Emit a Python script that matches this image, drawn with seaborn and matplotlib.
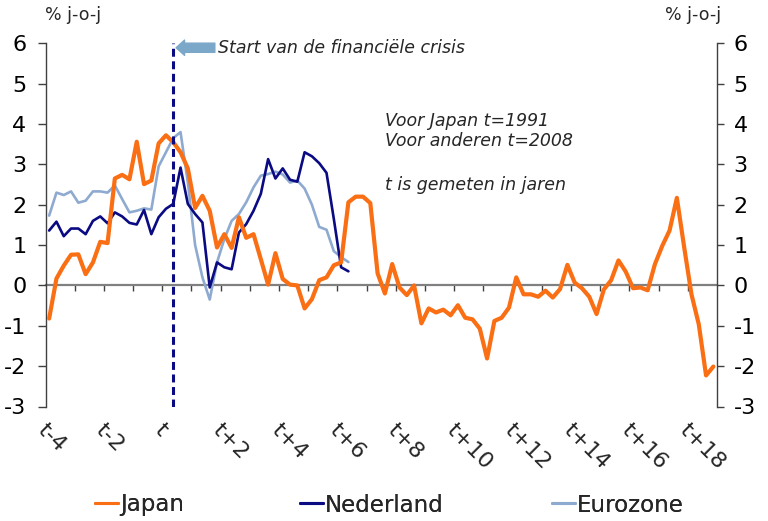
import numpy as np
import pandas as pd
import matplotlib
matplotlib.use("Agg")
import matplotlib.pyplot as plt
from matplotlib.lines import Line2D
import seaborn as sns

# ---------------- data (quarterly, % j-o-j) ----------------
japan = [-0.82, 0.17, 0.49, 0.76, 0.77, 0.28, 0.57, 1.08, 1.05, 2.65,
         2.74, 2.63, 3.56, 2.51, 2.60, 3.52, 3.72, 3.55, 3.30, 2.90,
         1.92, 2.22, 1.85, 0.94, 1.27, 0.93, 1.69, 1.18, 1.27, 0.65,
         0.02, 0.80, 0.16, 0.02, 0.00, -0.57, -0.34, 0.13, 0.20, 0.50,
         0.57, 2.06, 2.20, 2.20, 2.04, 0.30, -0.20, 0.53, -0.05, -0.24,
         0.00, -0.94, -0.57, -0.67, -0.60, -0.74, -0.49, -0.80, -0.84, -1.07,
         -1.81, -0.88, -0.80, -0.55, 0.20, -0.22, -0.22, -0.28, -0.13, -0.30,
         -0.09, 0.51, 0.07, -0.07, -0.28, -0.71, -0.10, 0.13, 0.62, 0.34,
         -0.07, -0.05, -0.12, 0.53, 0.98, 1.36, 2.17, 0.95, -0.22, -0.96,
         -2.23, -2.01]
nederland = [1.36, 1.58, 1.22, 1.41, 1.41, 1.27, 1.60, 1.71, 1.54, 1.81,
             1.71, 1.55, 1.51, 1.87, 1.27, 1.69, 1.90, 2.02, 2.92, 2.02,
             1.77, 1.56, -0.05, 0.57, 0.45, 0.40, 1.31, 1.52, 1.85, 2.27,
             3.13, 2.65, 2.90, 2.62, 2.57, 3.30, 3.20, 3.03, 2.79, 1.65,
             0.45, 0.35]
eurozone = [1.73, 2.30, 2.24, 2.33, 2.05, 2.10, 2.33, 2.33, 2.30, 2.48,
            2.14, 1.81, 1.85, 1.91, 1.88, 2.95, 3.30, 3.65, 3.80, 2.55,
            1.00, 0.20, -0.35, 0.57, 1.15, 1.60, 1.77, 2.06, 2.43, 2.72,
            2.76, 2.82, 2.75, 2.55, 2.60, 2.40, 2.00, 1.45, 1.38, 0.85,
            0.70, 0.58]
series_names = ["Japan", "Nederland", "Eurozone"]
tick_labels = ["t-4", "t-2", "t", "t+2", "t+4", "t+6", "t+8", "t+10",
               "t+12", "t+14", "t+16", "t+18"]
crisis_quarter = 17  # index of quarter t

colors = {"Japan": "#FA6E14", "Nederland": "#0A0A82", "Eurozone": "#8FAAD0"}
widths = {"Japan": 3.0, "Nederland": 1.9, "Eurozone": 1.9}
zorders = {"Japan": 4, "Nederland": 3, "Eurozone": 2}

frames = []
for name, vals in zip(series_names, [japan, nederland, eurozone]):
    frames.append(pd.DataFrame({"kwartaal": np.arange(len(vals)),
                                "waarde": vals, "reeks": name}))
df = pd.concat(frames, ignore_index=True)

sns.set_theme(style="white")
plt.rcParams['font.family'] = ['DejaVu Sans']
plt.rcParams['axes.unicode_minus'] = False

W, H = 768, 521
fig = plt.figure(figsize=(W / 100, H / 100), dpi=100)
ax = fig.add_axes([45.5 / W, 1 - 406.5 / H, (717 - 45.5) / W, (406.5 - 43.3) / H])

handles = []
for name in series_names:
    sub = df[df["reeks"] == name]
    sns.lineplot(data=sub, x="kwartaal", y="waarde", color=colors[name],
                 linewidth=widths[name], ax=ax, legend=False,
                 zorder=zorders[name])
    handles.append(Line2D([], [], color=colors[name], linewidth=2.2))

n = len(japan)
ax.set_xlim(-0.5, n - 0.5)
ax.set_ylim(-3, 6)
ax.set_xlabel("")
ax.set_ylabel("")

# spines
for s in ["top", "bottom"]:
    ax.spines[s].set_visible(False)
ax.spines["left"].set_color("#404040")
ax.spines["left"].set_linewidth(1.0)
ax.spines["right"].set_visible(False)

# y ticks left
ax.set_yticks(range(-3, 7))
ax.tick_params(axis="y", labelsize=16, length=5.8, width=1.0, direction="out",
               pad=8.0, color="#404040", labelcolor="black", left=True)

# x tick labels (rotated, below plot)
label_pos = [-0.2 + 8 * k for k in range(len(tick_labels))]
ax.set_xticks(label_pos)
ax.set_xticklabels(tick_labels)
ax.tick_params(axis="x", length=0, pad=9.5, labelsize=16, bottom=True)
plt.setp(ax.get_xticklabels(), rotation=-45, ha="left", va="top",
         rotation_mode="anchor")

# zero line with year ticks
sec = ax.secondary_xaxis(1 / 3)
sec.set_xticks(np.arange(3.5, n - 1, 4))
sec.tick_params(axis="x", direction="out", length=4.5, width=1.0,
                color="#404040", labelbottom=False, labeltop=False)
for s in sec.spines.values():
    s.set_color("#808080")
    s.set_linewidth(1.6)

# right axis
ax2 = ax.twinx()
ax2.set_ylim(-3, 6)
ax2.set_yticks(range(-3, 7))
for s in ["top", "bottom", "left"]:
    ax2.spines[s].set_visible(False)
ax2.spines["right"].set_color("#404040")
ax2.spines["right"].set_linewidth(1.0)
ax2.tick_params(axis="y", labelsize=16, length=5.0, width=1.0, direction="out",
                pad=7.0, color="#404040", labelcolor="black", right=True)
ax2.grid(False)
ax.grid(False)

# crisis line and arrow
ax.axvline(crisis_quarter, color="#0A0A82", linewidth=2.2,
           linestyle=(0, (2.6, 1.5)), zorder=5)
ax.annotate("", xy=(17.4, 5.89), xytext=(22.7, 5.89),
            arrowprops=dict(arrowstyle="simple,head_length=0.55,head_width=1.0,tail_width=0.6",
                            color="#7BA7C8", shrinkA=0, shrinkB=0,
                            mutation_scale=11))
ax.text(23.1, 5.89, "Start van de financiële crisis", fontsize=12.5,
        style="italic", ha="left", va="center")
ax.text(46.0, 4.08, "Voor Japan t=1991", fontsize=12.5, style="italic",
        ha="left", va="center")
ax.text(46.0, 3.58, "Voor anderen t=2008", fontsize=12.5, style="italic",
        ha="left", va="center")
ax.text(46.0, 2.49, "t is gemeten in jaren", fontsize=12.5, style="italic",
        ha="left", va="center")

fig.text(45 / W, 1 - 15 / H, "% j-o-j", fontsize=12.5, ha="left", va="center")
fig.text(721 / W, 1 - 15 / H, "% j-o-j", fontsize=12.5, ha="right", va="center")

# legend: three entries at fixed positions
leg_x = [95, 300, 552]
for h, name, lx in zip(handles, series_names, leg_x):
    lg = fig.legend([h], [name], loc="center left",
                    bbox_to_anchor=(lx / W, 1 - 505 / H), frameon=False,
                    fontsize=16.5, handlelength=1.0, handletextpad=0.1,
                    borderpad=0, borderaxespad=0)
    fig.add_artist(lg)

fig.savefig("out.png", dpi=100)
